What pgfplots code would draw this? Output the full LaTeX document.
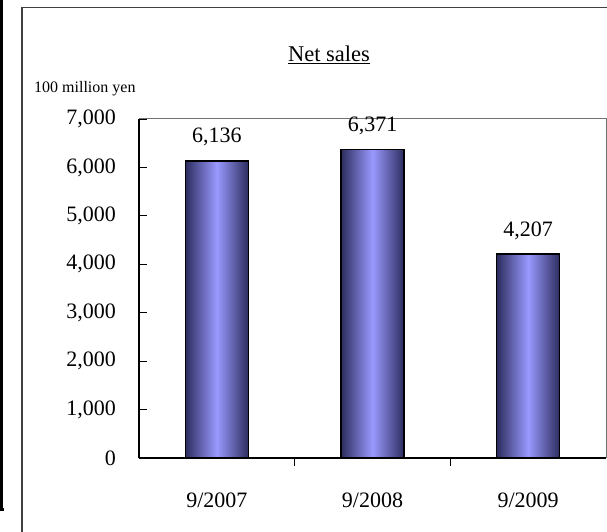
\documentclass[border=0pt]{standalone}
\usepackage{pgfplots}
\pgfplotsset{compat=1.18}
\usepackage{fontspec}
\setmainfont{Liberation Serif}
\definecolor{barEdge}{RGB}{45,45,95}
\definecolor{barMid}{RGB}{153,153,255}
\begin{document}
\begin{tikzpicture}
\path[use as bounding box] (-139pt,-74pt) rectangle (468pt,458pt);
\begin{scope}
\clip (-139pt,-74pt) rectangle (468pt,458pt);
\begin{scope}[shift={(-139pt,-74pt)}, x=1pt, y=1pt]
% outer frames
\draw[line width=3pt,black] (1.5,533) -- (1.5,23) -- (4.5,23);
\draw[line width=1.3pt,black!75] (22,-2) -- (22,524.5) -- (610,524.5);
% title and unit
\node[anchor=base,inner sep=0pt,font=\fontsize{22.5}{26}\selectfont] at (329,470) {\underline{Net sales}};
\node[anchor=base west,inner sep=0pt,font=\fontsize{16}{19}\selectfont] at (34,439) {100 million yen};
\end{scope}
\begin{axis}[
  at={(0pt,0pt)}, anchor=origin,
  scale only axis, width=467pt, height=339pt,
  xmin=0, xmax=3, ymin=0, ymax=7000,
  axis x line*=bottom, axis y line*=left,
  axis line style={line width=1.2pt, black},
  x axis line style={-}, y axis line style={-},
  ytick={0,1000,...,7000},
  xtick={0.5,1.5,2.5},
  xticklabels={9/2007,9/2008,9/2009},
  minor xtick={1,2},
  tick align=inside,
  major tick length=8pt, minor tick length=8pt,
  major x tick style={draw=none},
  minor x tick style={black, line width=0.8pt},
  major y tick style={black, line width=0.8pt},
  /pgf/number format/assume math mode=true,
  /pgf/number format/1000 sep={,},
  ticklabel style={font=\fontsize{22}{26}\selectfont},
  yticklabel style={inner sep=0pt, xshift=-23pt},
  xticklabel style={anchor=base, inner sep=0pt, yshift=-41pt},
  ybar, bar width=63pt, bar shift=0pt,
  nodes near coords,
  nodes near coords style={anchor=base, inner sep=0pt, yshift=18pt, font=\fontsize{22}{26}\selectfont, black},
  clip=false,
]
\addplot[draw=black, line width=1.6pt, left color=barEdge, right color=barEdge, middle color=barMid] coordinates {(0.5,6136)};
\addplot[draw=black, line width=1.6pt, left color=barEdge, right color=barEdge, middle color=barMid] coordinates {(1.5,6371)};
\addplot[draw=black, line width=1.6pt, left color=barEdge, right color=barEdge, middle color=barMid] coordinates {(2.5,4207)};
\draw[black!55, line width=1pt] (rel axis cs:0,1) -- (rel axis cs:1,1) -- (rel axis cs:1,0);
\end{axis}
\end{scope}
\end{tikzpicture}
\end{document}
